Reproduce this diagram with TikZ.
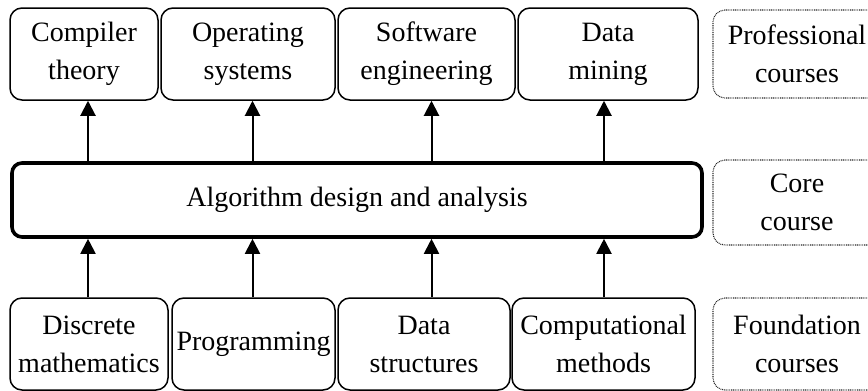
\documentclass[tikz,border=0pt]{standalone}
\usepackage{fontspec}
\setmainfont{Liberation Serif}
\usetikzlibrary{arrows.meta}
\begin{document}
\begin{tikzpicture}[x=0.5pt,y=-0.5pt,
  course/.style={draw, rounded corners=6pt, line width=0.75pt, align=center,
    inner sep=0pt, font=\fontsize{14}{19}\selectfont},
  corebox/.style={course, line width=1.8pt, rounded corners=5pt},
  levelbox/.style={course, line width=0.55pt, draw=black!85,
    dash pattern=on 0.45pt off 0.45pt},
  arr/.style={line width=1pt, -{Triangle[width=7.5pt,length=7.5pt]}}]
\useasboundingbox (0,0) rectangle (868,391);

% professional courses
\node[course, minimum width=74pt,   minimum height=46pt] (c1) at (84,54)    {Compiler\\theory};
\node[course, minimum width=87pt,   minimum height=46pt] (c2) at (248,54)   {Operating\\systems};
\node[course, minimum width=88.5pt, minimum height=46pt] (c3) at (426.5,54) {Software\\engineering};
\node[course, minimum width=90pt,   minimum height=46pt] (c4) at (608,54)   {Data\\mining};

% core course
\node[corebox, minimum width=345pt, minimum height=37pt] (alg) at (357,200) {Algorithm design and analysis};

% foundation courses
\node[course, minimum width=79pt,   minimum height=46pt] (b1) at (89,344)    {Discrete\\mathematics};
\node[course, minimum width=81.5pt, minimum height=46pt] (b2) at (253.5,344) {Programming};
\node[course, minimum width=86pt,   minimum height=46pt] (b3) at (424,344)   {Data\\structures};
\node[course, minimum width=91.5pt, minimum height=46pt] (b4) at (603.5,344) {Computational\\methods};

% level labels
\node[levelbox, minimum width=84pt, minimum height=44pt]   (l1) at (797,54)    {Professional\\courses};
\node[levelbox, minimum width=84pt, minimum height=42.5pt] (l2) at (797,202.5) {Core\\course};
\node[levelbox, minimum width=84pt, minimum height=46pt]   (l3) at (797,344)   {Foundation\\courses};

% arrow columns
\coordinate (x1) at (88,0);
\coordinate (x2) at (252.5,0);
\coordinate (x3) at (431.5,0);
\coordinate (x4) at (604,0);

\draw[arr] (alg.north -| x1) -- (c1.south -| x1);
\draw[arr] (alg.north -| x2) -- (c2.south -| x2);
\draw[arr] (alg.north -| x3) -- (c3.south -| x3);
\draw[arr] (alg.north -| x4) -- (c4.south -| x4);

\draw[arr] (b1.north -| x1) -- (alg.south -| x1);
\draw[arr] (b2.north -| x2) -- (alg.south -| x2);
\draw[arr] (b3.north -| x3) -- (alg.south -| x3);
\draw[arr] (b4.north -| x4) -- (alg.south -| x4);
\end{tikzpicture}
\end{document}
